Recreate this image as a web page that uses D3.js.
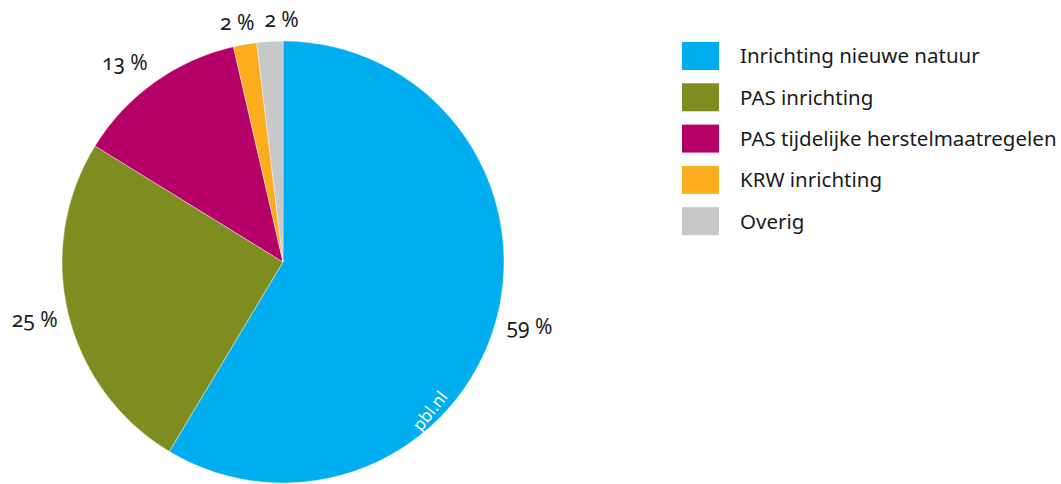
<!DOCTYPE html>
<html><head><meta charset="utf-8">
<script src="https://cdn.jsdelivr.net/npm/d3@7"></script>
<style>
html,body{margin:0;padding:0;background:#fff;}
svg text{font-family:"Noto Sans","Open Sans",sans-serif;font-variant-numeric:oldstyle-nums;font-feature-settings:"onum" 1;fill:#1a1a1a;}
</style></head><body>
<svg id="c" width="1061" height="484"></svg>
<script>
const categories = ["Inrichting nieuwe natuur","PAS inrichting","PAS tijdelijke herstelmaatregelen","KRW inrichting","Overig"];
const values = [58.6, 25.2, 12.6, 1.7, 1.9];
const labels = ["59 %","25 %","13 %","2 %","2 %"];
const colors = ["#00aeef","#7f8c1f","#b5006a","#fbad1e","#c7c8ca"];

const svg = d3.select("#c");
const cx = 283, cy = 262, R = 221;
const g = svg.append("g").attr("transform",`translate(${cx},${cy})`);
const pie = d3.pie().sort(null).value(d=>d)(values);
const arc = d3.arc().innerRadius(0).outerRadius(R);
g.selectAll("path").data(pie).join("path")
  .attr("d",arc).attr("fill",(d,i)=>colors[i])
  .attr("stroke","#fff").attr("stroke-width",0.4);

// labels: box touches the point at radius lr along the slice's mid-angle
const lr = 232, fs = 21, vh = 18;
const clamp = t => Math.max(-1, Math.min(1, t));
const lbl = g.selectAll("text.lbl").data(pie).join("text").attr("class","lbl")
  .attr("text-anchor","middle").attr("font-size",fs)
  .text((d,i)=>labels[i]);
const pos = [];
lbl.each(function(d,i){
  const w = this.getComputedTextLength();
  const a = (d.startAngle+d.endAngle)/2;
  const px = Math.sin(a)*lr, py = -Math.cos(a)*lr;
  pos.push({i, w, x: px + (w/2)*clamp(2*Math.sin(a)), y: py + (vh/2)*clamp(-2*Math.cos(a))});
});
// keep a gap between labels that share a row
const gap = 10;
for (let i=0;i<pos.length;i++) for (let j=i+1;j<pos.length;j++){
  const a=pos[i], b=pos[j];
  if (Math.abs(a.y-b.y)<vh){
    const need = a.w/2 + b.w/2 + gap;
    if (b.x >= a.x && b.x - a.x < need) b.x = a.x + need;
    else if (a.x > b.x && a.x - b.x < need) a.x = b.x + need;
  }
}
lbl.attr("x",(d,i)=>pos[i].x).attr("y",(d,i)=>pos[i].y).attr("dy","0.27em");

// watermark
svg.append("text").attr("transform","translate(430,411) rotate(-52)")
  .attr("text-anchor","middle").attr("font-size",17)
  .style("fill","#fff").attr("dy","0.35em").text("pbl.nl");

// legend
const lg = svg.append("g").attr("transform","translate(682,42)");
const rows = lg.selectAll("g").data(categories).join("g")
  .attr("transform",(d,i)=>`translate(0,${i*41.3})`);
rows.append("rect").attr("width",37).attr("height",28).attr("fill",(d,i)=>colors[i]);
rows.append("text").attr("x",58).attr("y",14).attr("dy","0.36em")
  .attr("font-size",20.5).text(d=>d);
</script>
</body></html>
